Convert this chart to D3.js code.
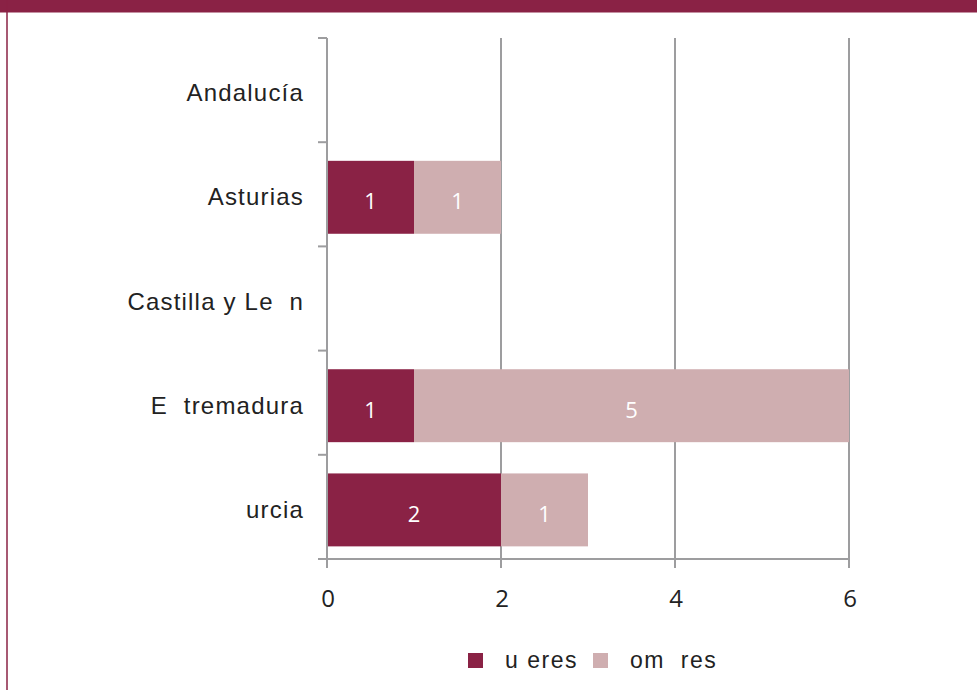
<!DOCTYPE html>
<html><head><meta charset="utf-8">
<script src="https://cdn.jsdelivr.net/npm/d3@7"></script>
<style>
html,body{margin:0;padding:0;background:#fff;}
svg{display:block;}
</style></head>
<body>
<svg id="chart" width="977" height="690"></svg>
<script>
const categories = ["Andalucía", "Asturias", "Castilla y Le\u00A0\u00A0n", "E\u00A0\u00A0tremadura", "urcia"];
const seriesNames = ["u\u00A0eres", "om\u00A0\u00A0res"];
const mujeres = [0, 1, 0, 1, 2];
const hombres = [0, 1, 0, 5, 1];
const xTicks = [0, 2, 4, 6];
const colors = ["#8a2245", "#cfaeb0"];

(function () {
const svg = d3.select("#chart");
const W = 977, H = 690;
const pLeft = 327, pRight = 849, pTop = 38, pBottom = 559;

// frame
svg.append("rect").attr("x", 0).attr("y", 0).attr("width", W).attr("height", 12.5).attr("fill", "#8a2245");
svg.append("line").attr("x1", 7).attr("x2", 7).attr("y1", 0).attr("y2", H)
  .attr("stroke", "#8a2245").attr("stroke-width", 1.5);

const x = d3.scaleLinear().domain([0, 6]).range([pLeft, pRight]);
const y = d3.scaleBand().domain(categories).range([pTop, pBottom]).paddingInner(0.3).paddingOuter(0.15);

// gridlines
svg.append("g").selectAll("line").data(xTicks.filter(d => d > 0)).join("line")
  .attr("x1", d => x(d)).attr("x2", d => x(d)).attr("y1", pTop).attr("y2", pBottom)
  .attr("stroke", "#9d9d9f").attr("stroke-width", 2);

// stacked bars
const rows = categories.map((c, i) => ({cat: c, vals: [mujeres[i], hombres[i]]}));
const stackData = d3.stack().keys([0, 1]).value((d, k) => d.vals[k])(rows);
const shift = 3;
stackData.forEach((layer, li) => {
  const g = svg.append("g");
  const nz = layer.filter(d => d[1] - d[0] > 0);
  g.selectAll("rect").data(nz).join("rect")
    .attr("x", d => x(d[0])).attr("width", d => x(d[1]) - x(d[0]))
    .attr("y", d => y(d.data.cat) + shift).attr("height", y.bandwidth())
    .attr("fill", colors[li]);
  g.selectAll("text").data(nz).join("text")
    .attr("x", d => (x(d[0]) + x(d[1])) / 2)
    .attr("y", d => y(d.data.cat) + shift + y.bandwidth() / 2 + 4)
    .attr("dy", "0.36em")
    .attr("text-anchor", "middle")
    .attr("fill", "#fff")
    .attr("font-family", "'Open Sans', sans-serif")
    .attr("font-size", 22)
    .text(d => d[1] - d[0]);
});

// y axis
const bandEdges = categories.map(c => y(c) - y.step() * y.paddingInner() / 2).concat([pBottom]);
bandEdges[0] = pTop;
svg.append("line").attr("x1", pLeft).attr("x2", pLeft).attr("y1", pTop).attr("y2", pBottom)
  .attr("stroke", "#9d9d9f").attr("stroke-width", 2);
svg.append("g").selectAll("line").data(bandEdges).join("line")
  .attr("x1", pLeft - 9).attr("x2", pLeft).attr("y1", d => d).attr("y2", d => d)
  .attr("stroke", "#9d9d9f").attr("stroke-width", 2);

// x axis
svg.append("line").attr("x1", pLeft - 9).attr("x2", pRight).attr("y1", pBottom).attr("y2", pBottom)
  .attr("stroke", "#9d9d9f").attr("stroke-width", 2);
svg.append("g").selectAll("line").data(xTicks).join("line")
  .attr("x1", d => x(d)).attr("x2", d => x(d)).attr("y1", pBottom).attr("y2", pBottom + 9)
  .attr("stroke", "#9d9d9f").attr("stroke-width", 2);
svg.append("g").selectAll("text").data(xTicks).join("text")
  .attr("x", d => x(d) + 1).attr("y", 607)
  .attr("text-anchor", "middle").attr("fill", "#222")
  .attr("font-family", "'Open Sans', sans-serif").attr("font-size", 24)
  .text(d => d);

// category labels
svg.append("g").selectAll("text").data(categories).join("text")
  .attr("x", 304).attr("y", d => y(d) + y.bandwidth() / 2 + shift + 8)
  .attr("text-anchor", "end").attr("fill", "#222")
  .attr("font-family", "'Liberation Sans', Arial, sans-serif").attr("font-size", 24)
  .attr("letter-spacing", "1.2px")
  .text(d => d);

// legend
const legendX = [468, 593];
const lg = svg.append("g");
seriesNames.forEach((n, i) => {
  lg.append("rect").attr("x", legendX[i]).attr("y", 653).attr("width", 15).attr("height", 15).attr("fill", colors[i]);
  lg.append("text").attr("x", legendX[i] + 37).attr("y", 668)
    .attr("fill", "#222").attr("font-family", "'Liberation Sans', Arial, sans-serif")
    .attr("font-size", 23).attr("letter-spacing", "1.5px").text(n);
});
})();
</script>
</body></html>
